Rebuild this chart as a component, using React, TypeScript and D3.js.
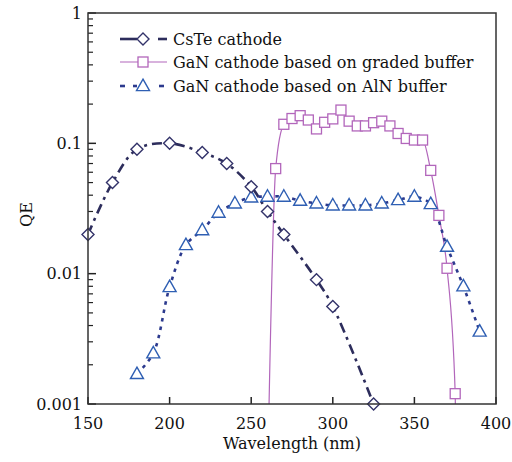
import React from "react";
import * as d3 from "d3";

// ---- Data ----
const csteWavelength = [150, 165, 180, 200, 220, 235, 250, 260, 270, 290, 300, 325];
const csteQE = [0.02, 0.05, 0.09, 0.1, 0.085, 0.07, 0.0465, 0.03, 0.02, 0.009, 0.0056, 0.001];

const gradedWavelength = [265, 270, 275, 280, 285, 290, 295, 300, 305, 310, 315, 320, 325, 330, 335, 340, 345, 350, 355, 360, 365, 370, 375];
const gradedQE = [0.064, 0.14, 0.155, 0.163, 0.151, 0.129, 0.145, 0.154, 0.18, 0.148, 0.136, 0.136, 0.144, 0.148, 0.136, 0.119, 0.109, 0.106, 0.106, 0.062, 0.028, 0.011, 0.0012];
// curve continues below the axis at both edges (clipped)
const gradedEdgeWavelength = [260.3, 375.6];
const gradedEdgeQE = [0.0004, 0.0004];

const alnWavelength = [180, 190, 200, 210, 220, 230, 240, 250, 260, 270, 280, 290, 300, 310, 320, 330, 340, 350, 360, 370, 380, 390];
const alnQE = [0.0017, 0.00245, 0.0079, 0.0166, 0.0216, 0.0294, 0.0346, 0.0385, 0.039, 0.039, 0.0363, 0.0346, 0.0334, 0.0334, 0.0334, 0.0346, 0.0367, 0.039, 0.0342, 0.0161, 0.008, 0.0036];

const xTicks = [150, 200, 250, 300, 350, 400];
const yTicks = [1, 0.1, 0.01, 0.001];
const yTickLabels = ["1", "0.1", "0.01", "0.001"];
const legendLabels = ["CsTe cathode", "GaN cathode based on graded buffer", "GaN cathode based on AlN buffer"];

const W = 512, H = 462;
const M = { left: 88, right: 496, top: 13, bottom: 404 };
const FONT = "'DejaVu Serif', serif";

const C_CSTE_LINE = "#2d2d5c";
const C_CSTE_MARK = "#33336a";
const C_GRADED = "#b266bb";
const C_ALN_LINE = "#2c3a8e";
const C_ALN_MARK = "#2f5fb3";

export default function App() {
  const x = d3.scaleLinear().domain([150, 400]).range([M.left, M.right]);
  const y = d3.scaleLog().domain([0.001, 1]).range([M.bottom, M.top]);

  const cste = csteWavelength.map((w, i) => [w, csteQE[i]] as [number, number]);
  const graded = gradedWavelength.map((w, i) => [w, gradedQE[i]] as [number, number]);
  const gradedLine: [number, number][] = [
    [gradedEdgeWavelength[0], gradedEdgeQE[0]],
    ...graded,
    [gradedEdgeWavelength[1], gradedEdgeQE[1]],
  ];
  const aln = alnWavelength.map((w, i) => [w, alnQE[i]] as [number, number]);

  const lineCR = d3.line<[number, number]>()
    .x((d) => x(d[0]))
    .y((d) => y(d[1]))
    .curve(d3.curveCatmullRom.alpha(0.5));
  const lineMono = d3.line<[number, number]>()
    .x((d) => x(d[0]))
    .y((d) => y(d[1]))
    .curve(d3.curveMonotoneX);

  const minorY: number[] = [];
  [0.001, 0.01, 0.1].forEach((dec) => {
    for (let k = 2; k <= 9; k++) minorY.push(dec * k);
  });

  const diamond = (cx: number, cy: number, r = 6) =>
    `M${cx},${cy - r}L${cx + r},${cy}L${cx},${cy + r}L${cx - r},${cy}Z`;
  const triangle = (cx: number, cy: number, w = 13, h = 11.5) =>
    `M${cx},${cy - h * 0.6}L${cx + w / 2},${cy + h * 0.4}L${cx - w / 2},${cy + h * 0.4}Z`;
  const sq = 10;

  const legY = [39, 62, 86];
  const legText = 173;

  return (
    <svg width={W} height={H} style={{ position: "absolute", left: 0, top: 0, background: "#fff" }}
      fontFamily={FONT}>
      <defs>
        <clipPath id="plotclip">
          <rect x={M.left} y={M.top} width={M.right - M.left} height={M.bottom - M.top} />
        </clipPath>
      </defs>

      {/* y ticks */}
      {yTicks.map((t, i) => (
        <g key={"yt" + i}>
          <line x1={M.left} x2={M.left + 8} y1={y(t)} y2={y(t)} stroke="#222" strokeWidth={1.5} />
          <text x={82} y={y(t)} dy="0.35em" textAnchor="end" fontSize={16} fill="#111">{yTickLabels[i]}</text>
        </g>
      ))}
      {minorY.map((t, i) => (
        <line key={"ym" + i} x1={M.left} x2={M.left + 5} y1={y(t)} y2={y(t)} stroke="#222" strokeWidth={1.2} />
      ))}
      {/* x ticks */}
      {xTicks.map((t, i) => (
        <g key={"xt" + i}>
          <line x1={x(t)} x2={x(t)} y1={M.bottom} y2={M.bottom - 7} stroke="#222" strokeWidth={1.5} />
          <text x={x(t)} y={429} textAnchor="middle" fontSize={16} fill="#111">{t}</text>
        </g>
      ))}

      {/* data */}
      <g clipPath="url(#plotclip)">
        <path d={lineMono(gradedLine) || ""} fill="none" stroke={C_GRADED} strokeWidth={1.2} />
        <path d={lineCR(cste) || ""} fill="none" stroke={C_CSTE_LINE} strokeWidth={2.6}
          strokeDasharray="10,5,3,5" />
        <path d={lineCR(aln) || ""} fill="none" stroke={C_ALN_LINE} strokeWidth={2.6}
          strokeDasharray="3.5,5" />
      </g>
      {graded.map((d, i) => (
        <rect key={"g" + i} x={x(d[0]) - sq / 2} y={y(d[1]) - sq / 2} width={sq} height={sq}
          fill="#fff" stroke={C_GRADED} strokeWidth={1.3} />
      ))}
      {aln.map((d, i) => (
        <path key={"a" + i} d={triangle(x(d[0]), y(d[1]))} fill="#fff" stroke={C_ALN_MARK} strokeWidth={1.4} />
      ))}
      {cste.map((d, i) => (
        <path key={"c" + i} d={diamond(x(d[0]), y(d[1]))} fill="#fff" stroke={C_CSTE_MARK} strokeWidth={1.4} />
      ))}

      {/* frame */}
      <rect x={M.left} y={M.top} width={M.right - M.left} height={M.bottom - M.top} fill="none" stroke="#333" strokeWidth={1.5} />

      {/* legend */}
      <g>
        <line x1={120} x2={137} y1={legY[0]} y2={legY[0]} stroke={C_CSTE_LINE} strokeWidth={2.6} />
        <line x1={158} x2={167} y1={legY[0]} y2={legY[0]} stroke={C_CSTE_LINE} strokeWidth={2.6} />
        <path d={diamond(143, legY[0])} fill="#fff" stroke={C_CSTE_MARK} strokeWidth={1.4} />

        <line x1={120} x2={167} y1={legY[1]} y2={legY[1]} stroke={C_GRADED} strokeWidth={1.2} />
        <rect x={143 - sq / 2} y={legY[1] - sq / 2} width={sq} height={sq} fill="#fff" stroke={C_GRADED} strokeWidth={1.3} />

        <line x1={120} x2={125} y1={legY[2]} y2={legY[2]} stroke={C_ALN_LINE} strokeWidth={2.6} />
        <line x1={133} x2={137} y1={legY[2]} y2={legY[2]} stroke={C_ALN_LINE} strokeWidth={2.6} />
        <line x1={159} x2={164} y1={legY[2]} y2={legY[2]} stroke={C_ALN_LINE} strokeWidth={2.6} />
        <path d={triangle(143, legY[2])} fill="#fff" stroke={C_ALN_MARK} strokeWidth={1.4} />

        {legendLabels.map((l, i) => (
          <text key={"l" + i} x={legText} y={legY[i]} dy="0.35em" fontSize={16} fill="#111">{l}</text>
        ))}
      </g>

      {/* axis titles */}
      <text x={(M.left + M.right) / 2} y={449} textAnchor="middle" fontSize={16} fill="#111">Wavelength (nm)</text>
      <text transform={`translate(32,${(M.top + M.bottom) / 2 + 6}) rotate(-90)`} textAnchor="middle" fontSize={16} fill="#111">QE</text>
    </svg>
  );
}
